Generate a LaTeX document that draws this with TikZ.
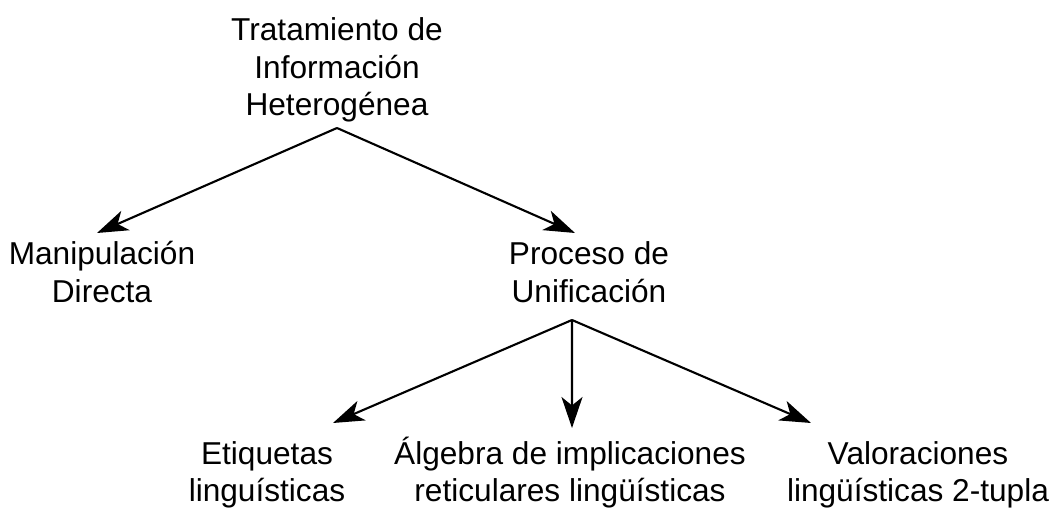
\documentclass[tikz,border=0pt]{standalone}
\usepackage{fontspec}
\setmainfont{Liberation Sans}
\usetikzlibrary{arrows.meta,calc}
\begin{document}
\begin{tikzpicture}[
		txt/.style={align=center,inner sep=0pt,anchor=south,font=\fontsize{18}{21.3}\selectfont},
		arr/.style={-{Stealth[length=0.62cm,width=0.42cm,inset=0.17cm]},line width=1.2pt}]
		\useasboundingbox (0,0) rectangle (21,-10.2);
		\node[txt] (root) at (6.74,-2.45) {Tratamiento de\\Información\\Heterogénea};
		\node[txt] (manip) at (2.04,-6.06) {Manipulación\\Directa};
		\node[txt] (proc) at (11.78,-6.06) {Proceso de\\Unificación};
		\node[txt] (etiq) at (5.34,-10.17) {Etiquetas\\linguísticas};
		\node[txt] (alg) at (11.40,-10.17) {Álgebra de implicaciones\\reticulares lingüísticas};
		\node[txt] (val) at (18.36,-10.17) {Valoraciones\\lingüísticas 2-tupla};
		\coordinate (rootfoot) at ($(root.south)+(0,-0.11)$);
		\coordinate (procfoot) at ($(proc.south)+(-0.34,-0.34)$);
		\draw[arr] (rootfoot) -- ($(manip.south)+(-0.1,1.40)$);
		\draw[arr] (rootfoot) -- ($(proc.south)+(-0.28,1.40)$);
		\draw[arr] (procfoot) -- ($(etiq.south)+(1.32,1.71)$);
		\draw[arr] (procfoot) -- ($(alg.south)+(0.04,1.61)$);
		\draw[arr] (procfoot) -- ($(val.south)+(-2.14,1.71)$);
	\end{tikzpicture}
\end{document}
